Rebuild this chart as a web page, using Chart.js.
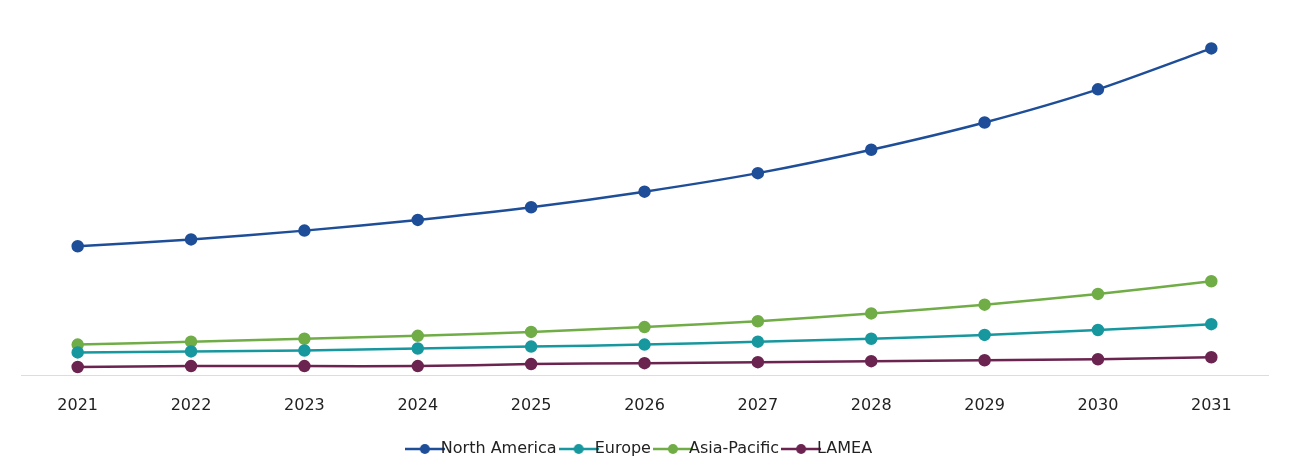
<!DOCTYPE html>
<html><head><meta charset="utf-8">
<script src="https://cdn.jsdelivr.net/npm/chart.js@4/dist/chart.umd.min.js"></script>
<style>html,body{margin:0;padding:0;background:#fff}#w{width:1293px;height:475px}</style>
</head><body><div id="w"><canvas id="c"></canvas></div>
<script>
const categories=["2021","2022","2023","2024","2025","2026","2027","2028","2029","2030","2031"];
const northAmerica=[133,140,149,160,173,189,208,232,260,294,336];
const europe=[24,25,26,28,30,32,35,38,42,47,53];
const asiaPacific=[32,35,38,41,45,50,56,64,73,84,97];
const lamea=[9,10,10,10,12,13,14,15,16,17,19];
function icon(c){const cv=document.createElement('canvas');cv.width=40;cv.height=12;const x=cv.getContext('2d');
x.strokeStyle=c;x.lineWidth=2.5;x.beginPath();x.moveTo(0,6);x.lineTo(40,6);x.stroke();
x.fillStyle=c;x.beginPath();x.arc(20,6,5,0,Math.PI*2);x.fill();return cv;}
const mk=(l,d,c)=>({label:l,data:d,borderColor:c,backgroundColor:c,pointBackgroundColor:c,pointBorderColor:c,borderWidth:2.5,pointRadius:5,pointHoverRadius:5,tension:0.25,_icon:icon(c)});
new Chart(document.getElementById('c'),{type:'line',
data:{labels:categories,datasets:[mk('North America',northAmerica,'#1f4e99'),mk('Europe',europe,'#17979e'),mk('Asia-Pacific',asiaPacific,'#70ad47'),mk('LAMEA',lamea,'#6b2450')]},
options:{responsive:true,maintainAspectRatio:false,animation:false,
layout:{padding:{left:21,right:25,top:0,bottom:8}},
plugins:{tooltip:{enabled:false},legend:{position:'bottom',labels:{usePointStyle:true,padding:14,color:'#222',font:{family:'DejaVu Sans',size:16},
generateLabels:(ch)=>ch.data.datasets.map((d,i)=>({text:d.label,pointStyle:d._icon,fillStyle:d.borderColor,strokeStyle:d.borderColor,fontColor:'#222',datasetIndex:i,hidden:false}))}}},
scales:{x:{offset:true,grid:{display:false},border:{color:'#dddddd'},ticks:{color:'#222',padding:12,font:{family:'DejaVu Sans',size:16}}},
y:{display:false,min:0,max:378}}}});
</script></body></html>
